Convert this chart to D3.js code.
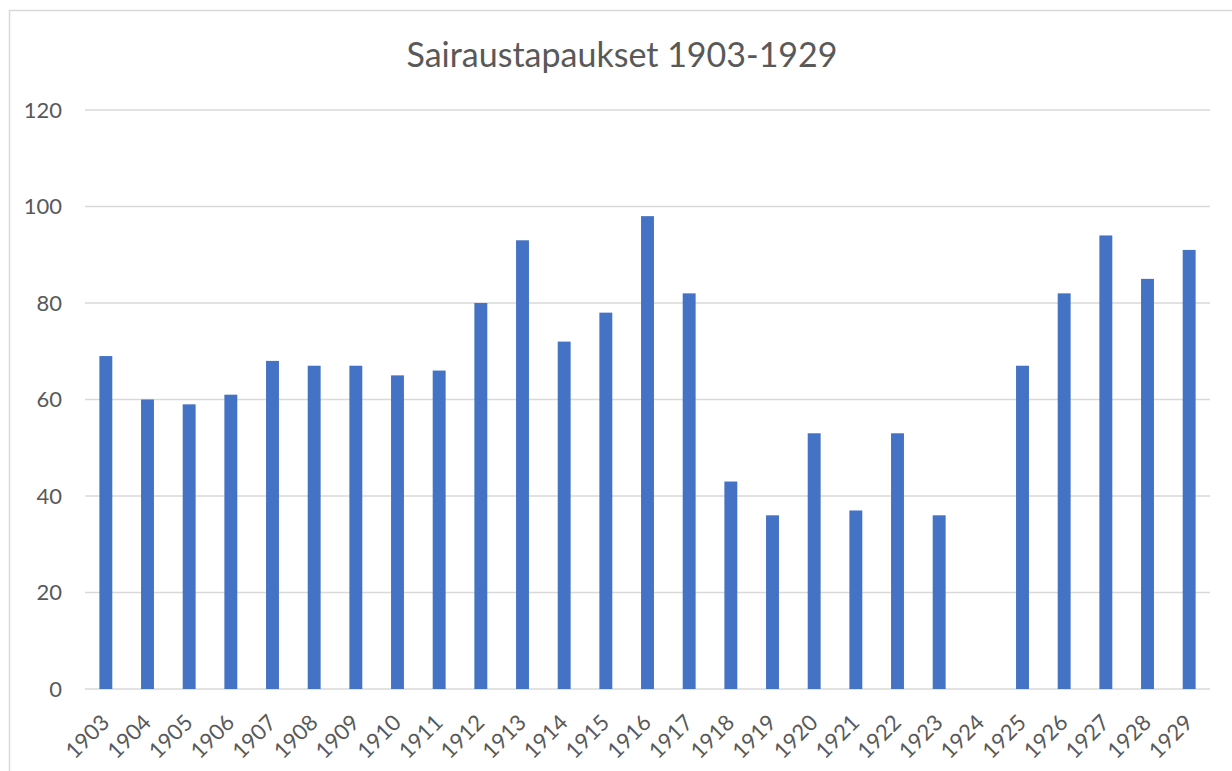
<!doctype html>
<html lang="fi">
<head>
  <meta charset="utf-8">
  <title>Sairaustapaukset 1903-1929</title>
  <script src="https://cdn.jsdelivr.net/npm/d3@7"></script>
  <style>
    body { margin: 0; background: #fff; }
    text { font-family: Lato, "Open Sans", sans-serif; fill: #595959; }
  </style>
</head>
<body>
  <div id="chart"></div>
  <script>
    // data (1924 has no bar)
    var years = ["1903", "1904", "1905", "1906", "1907", "1908", "1909", "1910", "1911",
      "1912", "1913", "1914", "1915", "1916", "1917", "1918", "1919", "1920", "1921",
      "1922", "1923", "1924", "1925", "1926", "1927", "1928", "1929"];
    var cases = [69, 60, 59, 61, 68, 67, 67, 65, 66,
      80, 93, 72, 78, 98, 82, 43, 36, 53, 37,
      53, 36, null, 67, 82, 94, 85, 91];
    var yTicks = [0, 20, 40, 60, 80, 100, 120];
    var title = "Sairaustapaukset 1903-1929";

    var W = 1232, H = 771;
    var margin = { top: 110, right: 22, bottom: 82, left: 85 },
      width = W - margin.left - margin.right,
      height = H - margin.top - margin.bottom;

    var svg = d3.select("#chart")
      .append("svg")
      .attr("width", W)
      .attr("height", H);

    // chart frame (runs off the right and bottom edges)
    svg.append("rect")
      .attr("x", 9.5).attr("y", 10.5)
      .attr("width", W + 20).attr("height", H + 20)
      .attr("fill", "none")
      .attr("stroke", "#d9d9d9")
      .attr("stroke-width", 1.5);

    svg.append("text")
      .attr("x", 622)
      .attr("y", 67)
      .attr("text-anchor", "middle")
      .style("font-size", "34px")
      .text(title);

    var g = svg.append("g")
      .attr("transform", "translate(" + margin.left + "," + margin.top + ")");

    var x = d3.scaleBand()
      .domain(years)
      .range([0, width]);

    var y = d3.scaleLinear()
      .domain([0, 120])
      .range([height, 0]);

    // gridlines
    g.append("g")
      .selectAll("line")
      .data(yTicks)
      .enter()
      .append("line")
      .attr("x1", 0)
      .attr("x2", width)
      .attr("y1", function (d) { return y(d); })
      .attr("y2", function (d) { return y(d); })
      .attr("stroke", "#d9d9d9")
      .attr("stroke-width", 1.5);

    // Y axis
    var yAxis = g.append("g")
      .call(d3.axisLeft(y).tickValues(yTicks).tickSize(0).tickPadding(23));
    yAxis.select(".domain").remove();
    yAxis.selectAll("text").style("font-size", "22px").attr("fill", "#595959");

    // bars
    var barW = x.step() * 0.31;
    g.append("g")
      .selectAll("rect")
      .data(years.map(function (yr, i) { return { year: yr, value: cases[i] }; })
        .filter(function (d) { return d.value != null; }))
      .enter()
      .append("rect")
      .attr("x", function (d) { return x(d.year) + x.bandwidth() / 2 - barW / 2; })
      .attr("y", function (d) { return y(d.value); })
      .attr("width", barW)
      .attr("height", function (d) { return height - y(d.value); })
      .attr("fill", "#4472c4");

    // X axis
    var xAxis = g.append("g")
      .attr("transform", "translate(0," + height + ")")
      .call(d3.axisBottom(x).tickSize(0).tickPadding(0));
    xAxis.select(".domain").remove();
    xAxis.selectAll("text")
      .style("font-size", "22px")
      .attr("fill", "#595959")
      .attr("text-anchor", "end")
      .attr("dy", null)
      .attr("transform", "translate(5,35) rotate(-45)");
  </script>
</body>
</html>
